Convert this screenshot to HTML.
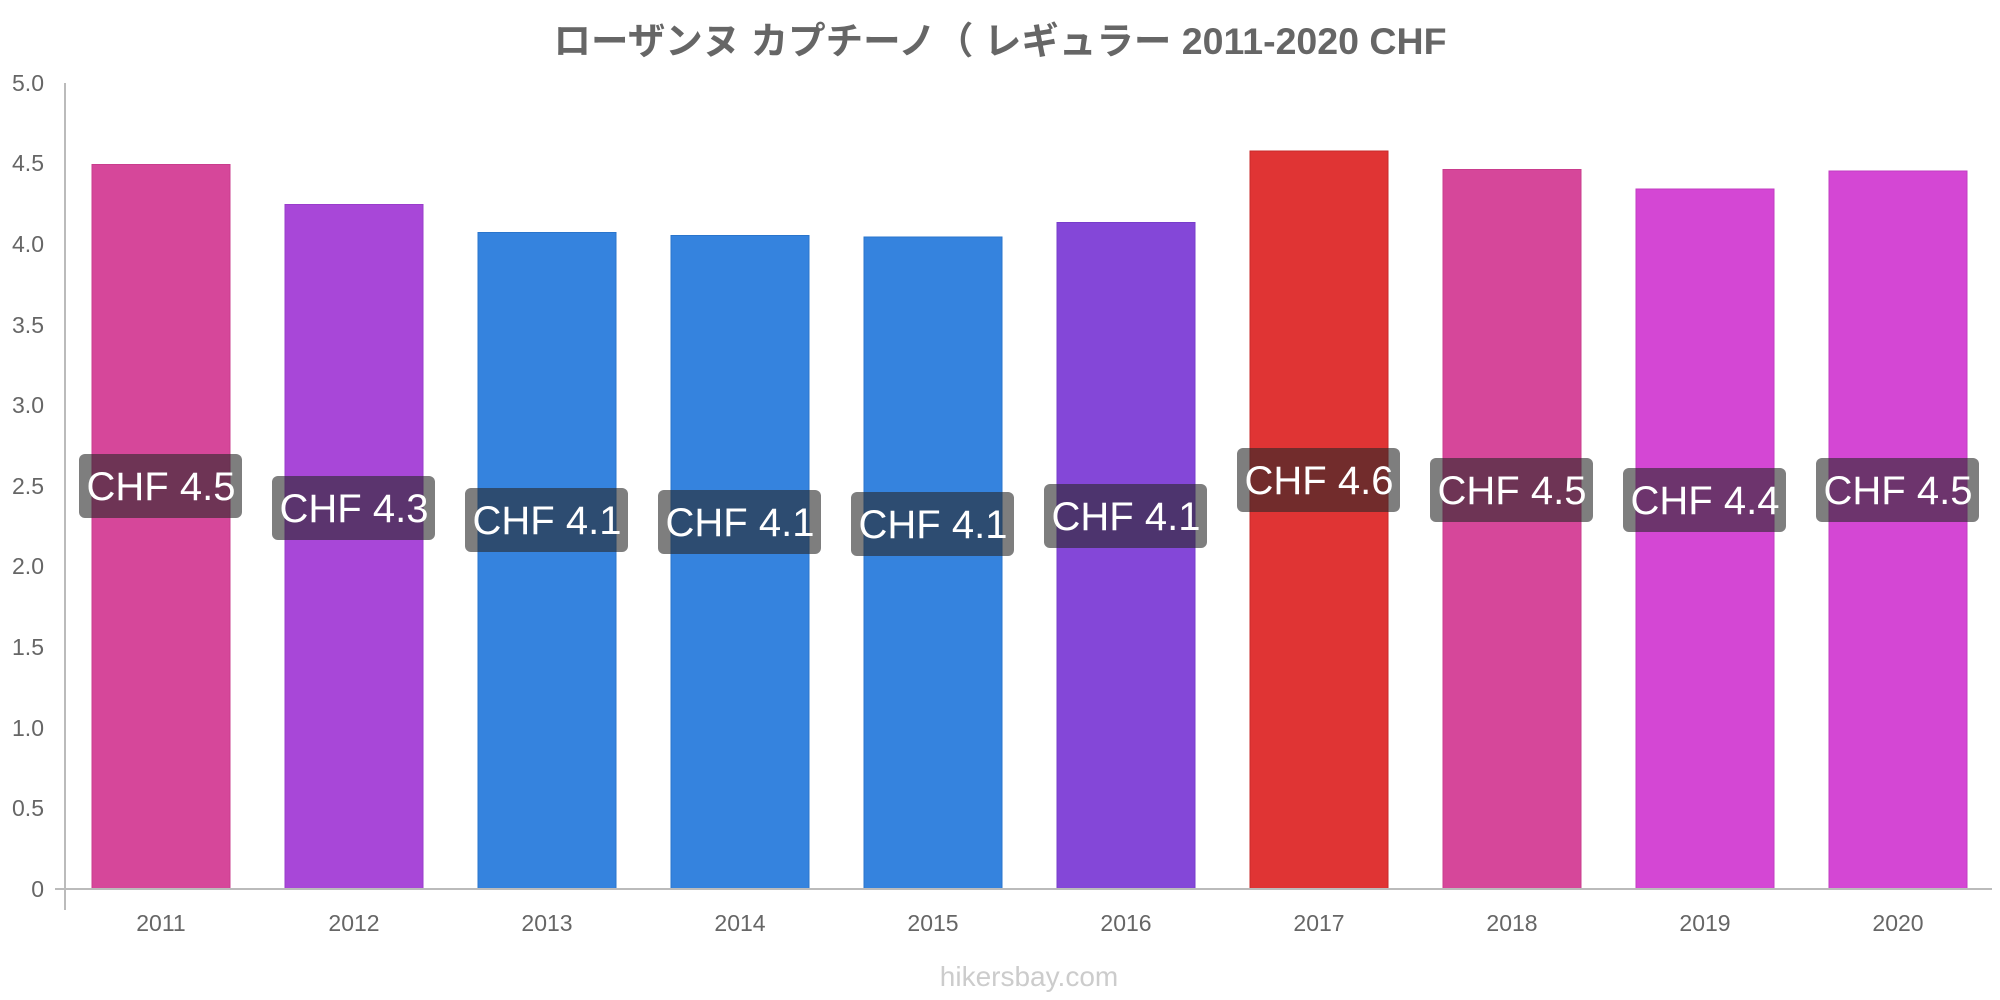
<!DOCTYPE html>
<html><head><meta charset="utf-8"><style>
html,body{margin:0;padding:0;background:#fff}
svg{display:block}
text{font-family:"Liberation Sans","Noto Sans CJK JP",sans-serif}
</style></head><body>
<svg width="2000" height="1000" viewBox="0 0 2000 1000">
<text x="1000" y="54" text-anchor="middle" font-size="37.5" font-weight="bold" fill="#666">ローザンヌ カプチーノ（ レギュラー 2011-2020 CHF</text>
<g font-size="23" fill="#666" text-anchor="end">
<text x="44" y="897">0</text>
<text x="44" y="816">0.5</text>
<text x="44" y="736">1.0</text>
<text x="44" y="655">1.5</text>
<text x="44" y="574">2.0</text>
<text x="44" y="494">2.5</text>
<text x="44" y="413">3.0</text>
<text x="44" y="333">3.5</text>
<text x="44" y="252">4.0</text>
<text x="44" y="171">4.5</text>
<text x="44" y="91">5.0</text>
</g>
<g stroke-width="1">
<rect x="92" y="164.5" width="138" height="724.5" fill="#d6479a" stroke="#c93d8d"/>
<rect x="285" y="204.5" width="138" height="684.5" fill="#a847d8" stroke="#9a3dcb"/>
<rect x="478" y="232.5" width="138" height="656.5" fill="#3583de" stroke="#2a75cc"/>
<rect x="671" y="235.5" width="138" height="653.5" fill="#3583de" stroke="#2a75cc"/>
<rect x="864" y="237" width="138" height="652" fill="#3583de" stroke="#2a75cc"/>
<rect x="1057" y="222.5" width="138" height="666.5" fill="#8447d8" stroke="#773dcb"/>
<rect x="1250" y="151" width="138" height="738" fill="#e03434" stroke="#c92a2a"/>
<rect x="1443" y="169.5" width="138" height="719.5" fill="#d6479a" stroke="#c93d8d"/>
<rect x="1636" y="189" width="138" height="700" fill="#d447d4" stroke="#c23dc2"/>
<rect x="1829" y="171" width="138" height="718" fill="#d447d4" stroke="#c23dc2"/>
</g>
<line x1="65" y1="83" x2="65" y2="910" stroke="#bbb" stroke-width="2"/>
<line x1="55" y1="889" x2="1992" y2="889" stroke="#bbb" stroke-width="2"/>
<g fill="rgba(40,40,40,0.6)">
<rect x="79" y="454" width="163" height="64" rx="6"/>
<rect x="272" y="476" width="163" height="64" rx="6"/>
<rect x="465" y="488" width="163" height="64" rx="6"/>
<rect x="658" y="490" width="163" height="64" rx="6"/>
<rect x="851" y="492" width="163" height="64" rx="6"/>
<rect x="1044" y="484" width="163" height="64" rx="6"/>
<rect x="1237" y="448" width="163" height="64" rx="6"/>
<rect x="1430" y="458" width="163" height="64" rx="6"/>
<rect x="1623" y="468" width="163" height="64" rx="6"/>
<rect x="1816" y="458" width="163" height="64" rx="6"/>
</g>
<g font-size="40" fill="#fff" text-anchor="middle">
<text x="161" y="500">CHF 4.5</text>
<text x="354" y="522">CHF 4.3</text>
<text x="547" y="534">CHF 4.1</text>
<text x="740" y="536">CHF 4.1</text>
<text x="933" y="538">CHF 4.1</text>
<text x="1126" y="530">CHF 4.1</text>
<text x="1319" y="494">CHF 4.6</text>
<text x="1512" y="504">CHF 4.5</text>
<text x="1705" y="514">CHF 4.4</text>
<text x="1898" y="504">CHF 4.5</text>
</g>
<g font-size="23" fill="#666" text-anchor="middle">
<text x="161" y="931">2011</text>
<text x="354" y="931">2012</text>
<text x="547" y="931">2013</text>
<text x="740" y="931">2014</text>
<text x="933" y="931">2015</text>
<text x="1126" y="931">2016</text>
<text x="1319" y="931">2017</text>
<text x="1512" y="931">2018</text>
<text x="1705" y="931">2019</text>
<text x="1898" y="931">2020</text>
</g>
<text x="1029" y="986" text-anchor="middle" font-size="28" fill="#ccc">hikersbay.com</text>
</svg>
</body></html>
